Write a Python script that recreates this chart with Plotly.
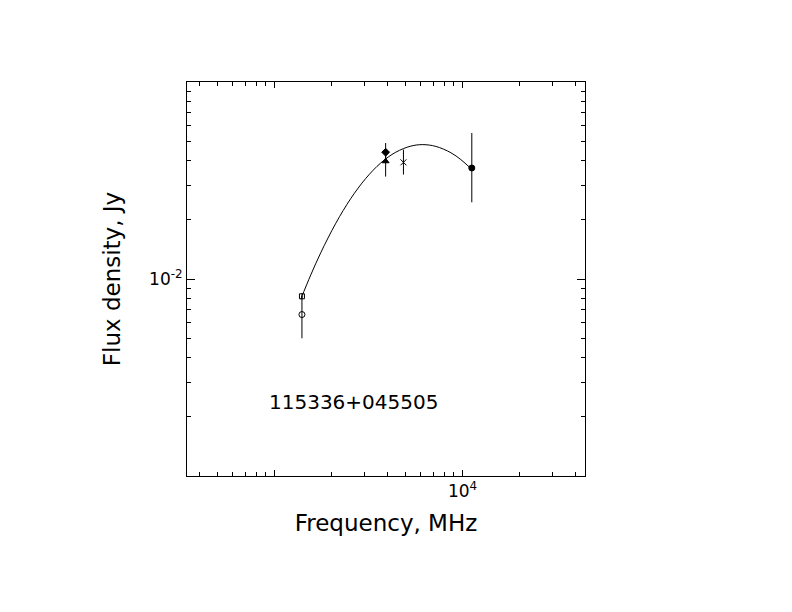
import plotly.graph_objects as go

# --- measured points (MHz, Jy) ---
freq_first = [1400]
flux_first = [0.00817]
err_first = [0.0003]

freq_nvss = [1400]
flux_nvss = [0.0066]
err_nvss = [0.0016]

freq_ratan_d = [3900]
flux_ratan_d = [0.0440]
err_ratan_d = [0.005]

freq_ratan_t = [3900]
flux_ratan_t = [0.0396]
err_ratan_t = [0.0065]

freq_gb6 = [4850]
flux_gb6 = [0.0391]
errp_gb6 = [0.0063]
errm_gb6 = [0.0052]

freq_ratan_c = [11200]
flux_ratan_c = [0.0366]
errp_ratan_c = [0.0185]
errm_ratan_c = [0.0121]

# fitted spectrum
fit_freq = [1380, 1560, 1763, 2120, 2546, 3059, 3676, 4418, 5309, 6150,
            7211, 8665, 9795, 11070]
fit_flux = [0.00790, 0.01049, 0.01360, 0.01920, 0.02562, 0.03241, 0.03884,
            0.04402, 0.04727, 0.04810, 0.04711, 0.04376, 0.04037, 0.03638]

source_name = "115336+045505"

x_major = [1000, 10000]
x_major_text = ["", "10<sup>4</sup>"]
x_minor = [400, 500, 600, 700, 800, 900,
           2000, 3000, 4000, 5000, 6000, 7000, 8000, 9000,
           20000, 30000, 40000]
y_major = [0.001, 0.01, 0.1]
y_major_text = ["", "10<sup>-2</sup>", ""]
y_minor = [0.002, 0.003, 0.004, 0.005, 0.006, 0.007, 0.008, 0.009,
           0.02, 0.03, 0.04, 0.05, 0.06, 0.07, 0.08, 0.09]

FONT = "DejaVu Sans"

fig = go.Figure()

fig.add_trace(go.Scatter(x=fit_freq, y=fit_flux, mode="lines",
                         line=dict(color="black", width=1, shape="spline"),
                         showlegend=False, hoverinfo="skip"))


def pts(x, y, sym, size, ep, em=None):
    err = dict(type="data", array=ep, arrayminus=em if em else ep,
               symmetric=False, color="black", thickness=1, width=0)
    return go.Scatter(x=x, y=y, mode="markers", error_y=err,
                      marker=dict(symbol=sym, size=size, color="black",
                                  line=dict(color="black", width=1)),
                      showlegend=False)


fig.add_trace(pts(freq_first, flux_first, "square-open", 5, err_first))
fig.add_trace(pts(freq_nvss, flux_nvss, "circle-open", 6, err_nvss))
fig.add_trace(pts(freq_ratan_d, flux_ratan_d, "diamond", 6, err_ratan_d))
fig.add_trace(pts(freq_ratan_t, flux_ratan_t, "triangle-up", 6, err_ratan_t))
fig.add_trace(pts(freq_gb6, flux_gb6, "x-thin", 6, errp_gb6, errm_gb6))
fig.add_trace(pts(freq_ratan_c, flux_ratan_c, "circle", 6, errp_ratan_c, errm_ratan_c))

fig.add_annotation(x=0.418, y=0.152, xref="paper", yref="paper",
                   text=source_name, showarrow=False,
                   font=dict(family=FONT, size=20, color="black"))

axis_common = dict(showline=True, linecolor="black", linewidth=1,
                   mirror="ticks", ticks="inside", tickcolor="black",
                   tickwidth=1, showgrid=False, zeroline=False)

fig.update_xaxes(type="log", range=[2.535, 4.651],
                 tickmode="array", tickvals=x_major, ticktext=x_major_text,
                 ticklen=6,
                 minor=dict(tickmode="array", tickvals=x_minor, ticks="inside",
                            ticklen=4, tickcolor="black", tickwidth=1,
                            showgrid=False),
                 tickfont=dict(family=FONT, size=17, color="black"),
                 title=dict(text="Frequency, MHz", standoff=14,
                            font=dict(family=FONT, size=23, color="black")),
                 **axis_common)

fig.update_yaxes(type="log", range=[-3, -1],
                 tickmode="array", tickvals=y_major, ticktext=y_major_text,
                 ticklen=8,
                 minor=dict(tickmode="array", tickvals=y_minor, ticks="inside",
                            ticklen=4, tickcolor="black", tickwidth=1,
                            showgrid=False),
                 tickfont=dict(family=FONT, size=17, color="black"),
                 title=dict(text="Flux density, Jy", standoff=22,
                            font=dict(family=FONT, size=23, color="black")),
                 **axis_common)

fig.update_layout(width=792, height=612,
                  margin=dict(l=179, r=215, t=74, b=144),
                  plot_bgcolor="white", paper_bgcolor="white",
                  font=dict(family=FONT, color="black"))

fig.write_html("out.html")
